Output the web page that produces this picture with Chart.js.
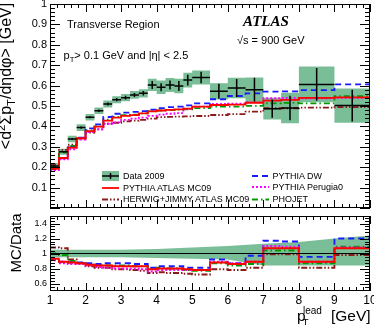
<!DOCTYPE html>
<html>
<head>
<meta charset="utf-8">
<script src="https://cdn.jsdelivr.net/npm/chart.js@4/dist/chart.umd.min.js"></script>
<style>
body{margin:0;background:#fff}
#wrap{position:relative;width:374px;height:325px;overflow:hidden;font-family:"Liberation Sans",Arial,sans-serif;color:#000}
canvas{position:absolute;left:0}
.t{position:absolute;white-space:nowrap;line-height:1}
.t sup,.t sub{font-size:0.7em;line-height:0}
</style>
</head>
<body>
<div id="wrap">
<canvas id="top" width="374" height="212" style="top:0"></canvas>
<canvas id="bot" width="374" height="113" style="top:212px"></canvas>
</div>
<script>
// bins in pT lead [GeV]
var edges = [1,1.25,1.5,1.75,2,2.25,2.5,2.75,3,3.25,3.5,3.75,4,4.25,4.5,4.75,5,5.5,6,6.5,7,7.5,8,9,10]

// Data 2009
var data2009 = [0.206,0.276,0.338,0.394,0.445,0.477,0.510,0.531,0.541,0.554,0.562,0.603,0.592,0.603,0.598,0.627,0.640,0.572,0.588,0.580,0.487,0.490,0.606,0.502]
var statErr  = [0.003,0.004,0.004,0.005,0.005,0.006,0.007,0.008,0.009,0.010,0.011,0.020,0.020,0.022,0.024,0.026,0.028,0.037,0.044,0.058,0.045,0.060,0.080,0.078]
var totErr   = [0.015,0.015,0.016,0.016,0.016,0.016,0.017,0.017,0.018,0.019,0.020,0.030,0.033,0.034,0.035,0.036,0.034,0.040,0.050,0.060,0.053,0.075,0.088,0.084]

// MC predictions
var mc09     = [0.192,0.245,0.296,0.342,0.377,0.399,0.428,0.443,0.452,0.455,0.464,0.474,0.478,0.481,0.483,0.487,0.497,0.505,0.507,0.516,0.526,0.530,0.540,0.542]
var dw       = [0.190,0.243,0.297,0.345,0.390,0.410,0.446,0.462,0.468,0.471,0.475,0.482,0.490,0.494,0.497,0.503,0.513,0.533,0.549,0.562,0.570,0.572,0.578,0.606]
var perugia0 = [0.186,0.238,0.288,0.335,0.372,0.386,0.413,0.420,0.432,0.438,0.443,0.452,0.458,0.462,0.465,0.486,0.497,0.510,0.512,0.518,0.538,0.540,0.538,0.540]
var phojet   = [0.205,0.272,0.304,0.340,0.380,0.400,0.433,0.447,0.455,0.458,0.464,0.475,0.478,0.480,0.482,0.483,0.490,0.497,0.497,0.501,0.513,0.515,0.513,0.548]
var herwig   = [0.212,0.285,0.310,0.340,0.370,0.385,0.413,0.418,0.425,0.428,0.432,0.438,0.445,0.447,0.448,0.449,0.451,0.456,0.460,0.472,0.489,0.489,0.492,0.494]

// MC/Data
var rMc09     = [0.93,0.89,0.88,0.87,0.85,0.84,0.84,0.83,0.83,0.83,0.83,0.79,0.80,0.80,0.80,0.79,0.78,0.88,0.86,0.89,1.07,1.07,0.89,1.07]
var rDw       = [0.92,0.89,0.88,0.88,0.87,0.86,0.87,0.87,0.87,0.86,0.86,0.81,0.83,0.83,0.83,0.81,0.81,0.92,0.87,0.97,1.17,1.16,0.955,1.20]
var rPerugia0 = [0.91,0.87,0.86,0.86,0.84,0.82,0.81,0.80,0.80,0.80,0.79,0.76,0.78,0.78,0.78,0.78,0.78,0.89,0.87,0.89,1.10,1.09,0.89,1.08]
var rPhojet   = [1.00,0.98,0.90,0.87,0.85,0.84,0.84,0.84,0.84,0.83,0.83,0.79,0.81,0.80,0.80,0.78,0.77,0.87,0.84,0.86,1.04,1.04,0.87,1.09]
var rHerwig   = [1.08,1.07,0.92,0.87,0.83,0.81,0.81,0.79,0.79,0.78,0.77,0.74,0.75,0.74,0.74,0.73,0.72,0.79,0.78,0.81,0.99,0.99,0.81,0.98]

// data uncertainty band in the ratio
var bandX  = [1,2,3,4,5,6,7,8,9,10]
var bandUp = [1.05,1.05,1.05,1.06,1.08,1.10,1.13,1.155,1.20,1.24]
var bandLo = [0.95,0.95,0.95,0.94,0.93,0.92,0.84,0.84,0.84,0.84]

// axis ticks
var xTicks = [1,2,3,4,5,6,7,8,9,10]
var yTicksTop = [0.1,0.2,0.3,0.4,0.5,0.6,0.7,0.8,0.9,1]
var yTicksRatio = [0.6,0.8,1,1.2,1.4]

var green = 'rgb(122,190,152)'
var cRed = '#ff0000', cBlue = '#1a1aff', cMag = '#ff00ff', cGreen = '#009a00', cDark = '#8b1a1a'
var dBlue = [6,4], dMag = [2,2], dGreen = [6,3,1.5,3], dDark = [6,2,1.5,2,1.5,2]

function histo(vals){
  var pts = vals.map(function(v,i){ return {x:edges[i], y:v} })
  pts.push({x:edges[edges.length-1], y:vals[vals.length-1]})
  return pts
}
function step(vals,color,dash){
  return {data:histo(vals), borderColor:color, borderWidth:1.8, borderDash:dash||[], stepped:'before', pointRadius:0, fill:false}
}
function dataH(){
  var p = []
  data2009.forEach(function(v,i){ p.push({x:edges[i],y:v},{x:edges[i+1],y:v},{x:edges[i+1],y:null}) })
  return p
}
function dataV(){
  var p = []
  data2009.forEach(function(v,i){
    var c = (edges[i]+edges[i+1])/2
    p.push({x:c,y:v-statErr[i]},{x:c,y:v+statErr[i]},{x:c,y:null})
  })
  return p
}
function fmt(v){ return v===1 ? '1' : v.toFixed(1) }

function range(a,b,s){ var r=[]; for(var v=a; v<=b+1e-9; v+=s) r.push(+v.toFixed(3)); return r }

// frame with ROOT style inward ticks
function frame(o){
  return {
    id:'frame',
    afterDatasetsDraw:function(chart){
      var ctx = chart.ctx, a = chart.chartArea, x = chart.scales.x, y = chart.scales.y
      ctx.save()
      ctx.strokeStyle = '#000'; ctx.lineWidth = 1; ctx.setLineDash([])
      ctx.strokeRect(a.left+0.5, a.top+0.5, a.right-a.left-1, a.bottom-a.top-1)
      ctx.beginPath()
      function xt(vals,len){ vals.forEach(function(v){ var px=Math.round(x.getPixelForValue(v))+0.5
        ctx.moveTo(px,a.bottom); ctx.lineTo(px,a.bottom-len); ctx.moveTo(px,a.top); ctx.lineTo(px,a.top+len) }) }
      function yt(vals,len){ vals.forEach(function(v){ var py=Math.round(y.getPixelForValue(v))+0.5
        ctx.moveTo(a.left,py); ctx.lineTo(a.left+len,py); ctx.moveTo(a.right,py); ctx.lineTo(a.right-len,py) }) }
      xt(range(1,10,0.2), o.xMin); xt(xTicks, o.xMaj)
      yt(o.yMinor, o.yMin); yt(o.yMajor, o.yMaj)
      ctx.stroke()
      ctx.restore()
    }
  }
}

var tickFont = {family:'"Liberation Sans", Arial, sans-serif'}
var noGrid = {display:false, drawTicks:false}

new Chart(document.getElementById('top'), {
  type:'line',
  data:{datasets:[
    {data:dataH(), borderColor:'#000', borderWidth:1.5, pointRadius:0, fill:false, spanGaps:false},
    {data:dataV(), borderColor:'#000', borderWidth:1.5, pointRadius:0, fill:false, spanGaps:false},
    step(mc09,cRed),
    step(perugia0,cMag,dMag),
    step(dw,cBlue,dBlue),
    step(phojet,cGreen,dGreen),
    step(herwig,cDark,dDark),
    {data:histo(data2009.map(function(v,i){return v+totErr[i]})), borderWidth:0, stepped:'before', pointRadius:0, backgroundColor:green, fill:'+1'},
    {data:histo(data2009.map(function(v,i){return v-totErr[i]})), borderWidth:0, stepped:'before', pointRadius:0, fill:false}
  ]},
  options:{
    responsive:false, animation:false, devicePixelRatio:1, events:[],
    layout:{padding:{left:0,right:4,top:4,bottom:4}},
    plugins:{legend:{display:false}, tooltip:{enabled:false}},
    scales:{
      x:{type:'linear', min:1, max:10, grid:noGrid, border:{display:false}, ticks:{display:false},
         afterFit:function(s){ s.height=0; s.paddingLeft=0; s.paddingRight=0 }},
      y:{type:'linear', min:0, max:1, grid:noGrid, border:{display:false},
         afterBuildTicks:function(s){ s.ticks = yTicksTop.map(function(v){return {value:v}}) },
         ticks:{color:'#000', padding:3, font:Object.assign({size:11},tickFont), callback:fmt},
         afterFit:function(s){ s.width=50; s.paddingTop=0; s.paddingBottom=0 }}
    }
  },
  plugins:[frame({xMaj:8, xMin:4, yMaj:10, yMin:5, yMajor:range(0,1,0.1), yMinor:range(0,1,0.02)}), {
    id:'legendMarks',
    afterDatasetsDraw:function(chart){
      var ctx = chart.ctx
      ctx.save()
      ctx.fillStyle = green; ctx.fillRect(102,171,17,10)
      ctx.strokeStyle = '#000'; ctx.lineWidth = 1.5
      ctx.beginPath(); ctx.moveTo(102,176); ctx.lineTo(119,176); ctx.moveTo(110.5,173); ctx.lineTo(110.5,179); ctx.stroke()
      function ln(x0,x1,y,c,d){ ctx.strokeStyle=c; ctx.lineWidth=1.8; ctx.setLineDash(d); ctx.beginPath(); ctx.moveTo(x0,y); ctx.lineTo(x1,y); ctx.stroke() }
      ln(102,119,188,cRed,[])
      ln(102,119,199.5,cDark,dDark)
      ln(252,269,176,cBlue,dBlue)
      ln(252,269,187,cMag,dMag)
      ln(252,269,199.5,cGreen,dGreen)
      ctx.restore()
    }
  }]
})

new Chart(document.getElementById('bot'), {
  type:'line',
  data:{datasets:[
    {data:[{x:1,y:1},{x:10,y:1}], borderColor:'#000', borderWidth:1, pointRadius:0, fill:false},
    step(rMc09,cRed),
    step(rPerugia0,cMag,dMag),
    step(rDw,cBlue,dBlue),
    step(rPhojet,cGreen,dGreen),
    step(rHerwig,cDark,dDark),
    {data:bandX.map(function(x,i){return {x:x,y:bandUp[i]}}), borderWidth:0, pointRadius:0, backgroundColor:green, fill:'+1'},
    {data:bandX.map(function(x,i){return {x:x,y:bandLo[i]}}), borderWidth:0, pointRadius:0, fill:false}
  ]},
  options:{
    responsive:false, animation:false, devicePixelRatio:1, events:[],
    layout:{padding:{left:0,right:4,top:4,bottom:0}},
    plugins:{legend:{display:false}, tooltip:{enabled:false}},
    scales:{
      x:{type:'linear', min:1, max:10, grid:noGrid, border:{display:false},
         afterBuildTicks:function(s){ s.ticks = xTicks.map(function(v){return {value:v}}) },
         ticks:{color:'#000', padding:2, maxRotation:0, autoSkip:false, font:Object.assign({size:12},tickFont)},
         afterFit:function(s){ s.height=34; s.paddingLeft=0; s.paddingRight=0 }},
      y:{type:'linear', min:0.5, max:1.5, grid:noGrid, border:{display:false},
         afterBuildTicks:function(s){ s.ticks = yTicksRatio.map(function(v){return {value:v}}) },
         ticks:{color:'#000', padding:3, font:Object.assign({size:9},tickFont), callback:fmt},
         afterFit:function(s){ s.width=50; s.paddingTop=0; s.paddingBottom=0 }}
    }
  },
  plugins:[frame({xMaj:8, xMin:4, yMaj:10, yMin:5, yMajor:range(0.6,1.4,0.2), yMinor:range(0.52,1.48,0.04)})]
})

// text
var wrap = document.getElementById('wrap')
function lab(html,x,base,size,style){
  var d = document.createElement('div')
  d.className = 't'
  d.innerHTML = html
  d.style.left = x+'px'
  d.style.top = (base-0.8465*size)+'px'
  d.style.fontSize = size+'px'
  if(style) d.style.cssText += style
  wrap.appendChild(d)
}
function vlab(html,cx,cy,size){
  var d = document.createElement('div')
  d.className = 't'
  d.innerHTML = html
  d.style.left = cx+'px'
  d.style.top = cy+'px'
  d.style.fontSize = size+'px'
  d.style.transform = 'translate(-50%,-50%) rotate(-90deg)'
  wrap.appendChild(d)
}

lab('Transverse Region',67,28.3,11)
lab('p<sub>T</sub>&gt; 0.1 GeV and |&eta;| &lt; 2.5',63.5,59,11)
lab('ATLAS',243,26.7,15,'font-family:"Liberation Serif",serif;font-weight:bold;font-style:italic')
lab('&radic;s = 900 GeV',237,44.5,11)

lab('Data 2009',123,179.2,9)
lab('PYTHIA ATLAS MC09',123,191.5,9)
lab('HERWIG+JIMMY ATLAS MC09',123,202.8,9)
lab('PYTHIA DW',272.5,179.2,9)
lab('PYTHIA Perugia0',272.5,190.2,9)
lab('PHOJET',272.5,202.8,9)

vlab('&lt;d<sup>2</sup>&Sigma;p<sub>T</sub>/d&eta;d&phi;&gt; [GeV]',5.5,76,16)
vlab('MC/Data',14.8,242.5,15)

lab('p',297,321,15.5)
lab('lead',303,314,10)
lab('T',302.5,327,10)
lab('[GeV]',331,321,15.5)
</script>
</body>
</html>
